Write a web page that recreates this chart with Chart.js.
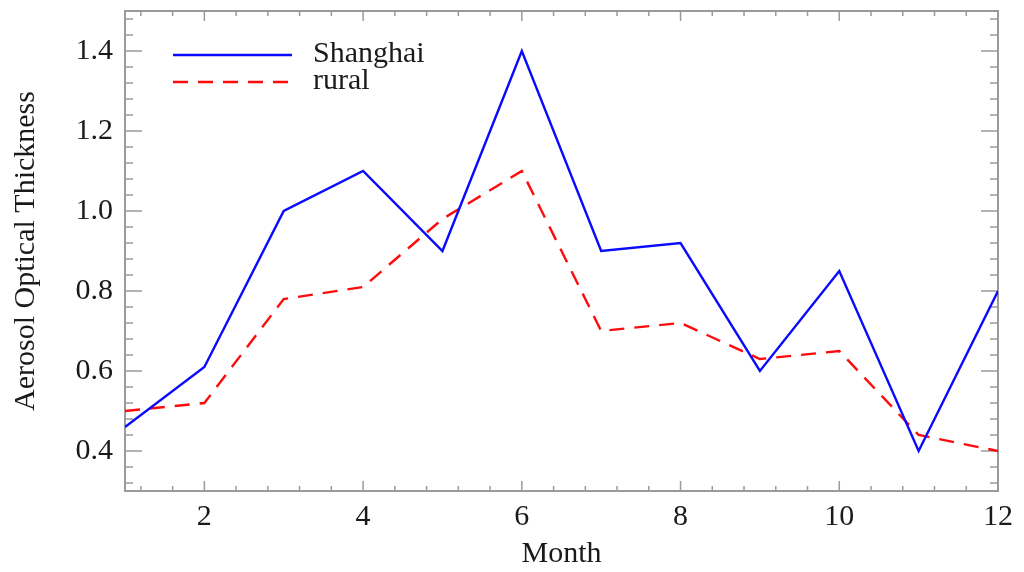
<!DOCTYPE html>
<html>
<head>
<meta charset="utf-8">
<script src="https://cdn.jsdelivr.net/npm/chart.js@4/dist/chart.umd.min.js"></script>
<style>
html, body { margin: 0; padding: 0; background: #fff; }
canvas { display: block; }
</style>
</head>
<body>
<canvas id="aotChart" width="1024" height="572"></canvas>
<script>
const months = [1, 2, 3, 4, 5, 6, 7, 8, 9, 10, 11, 12];
const shanghai = [0.46, 0.61, 1.00, 1.10, 0.90, 1.40, 0.90, 0.92, 0.60, 0.85, 0.40, 0.80];
const rural = [0.50, 0.52, 0.78, 0.81, 0.98, 1.10, 0.70, 0.72, 0.63, 0.65, 0.44, 0.40];
const xTicks = [2, 4, 6, 8, 10, 12];
const yTicks = [0.4, 0.6, 0.8, 1.0, 1.2, 1.4];

const serif = "'Liberation Serif', 'Times New Roman', serif";
const axisGray = '#9a9a9a';
const textColor = '#1a1a1a';

// box frame with inward major/minor ticks on all four sides
const frameTicks = {
    id: 'frameTicks',
    beforeDatasetsDraw(chart) {
        const {ctx, chartArea: a, scales: {x, y}} = chart;
        ctx.save();
        ctx.strokeStyle = axisGray;
        ctx.lineWidth = 1.5;
        ctx.beginPath();
        for (let k = 3; k < 30; k++) {
            const px = x.getPixelForValue(k * 0.4);
            const len = k % 5 === 0 ? 10 : 5;
            ctx.moveTo(px, a.bottom); ctx.lineTo(px, a.bottom - len);
            ctx.moveTo(px, a.top); ctx.lineTo(px, a.top + len);
        }
        for (let k = 8; k < 38; k++) {
            const py = y.getPixelForValue(k * 0.04);
            const len = k % 5 === 0 ? 17 : 8;
            ctx.moveTo(a.left, py); ctx.lineTo(a.left + len, py);
            ctx.moveTo(a.right, py); ctx.lineTo(a.right - len, py);
        }
        ctx.stroke();
        ctx.lineWidth = 2;
        ctx.strokeRect(a.left, a.top, a.right - a.left, a.bottom - a.top);
        ctx.restore();
    }
};

// legend inside the plot, top left
const innerLegend = {
    id: 'innerLegend',
    afterDraw(chart) {
        const {ctx, chartArea: a} = chart;
        ctx.save();
        ctx.font = '30px ' + serif;
        ctx.fillStyle = textColor;
        ctx.textBaseline = 'alphabetic';
        chart.data.datasets.forEach((ds, i) => {
            const ly = a.top + 44 + i * 27;
            ctx.strokeStyle = ds.borderColor;
            ctx.lineWidth = ds.borderWidth;
            ctx.setLineDash(ds.borderDash || []);
            ctx.beginPath();
            ctx.moveTo(a.left + 48, ly);
            ctx.lineTo(a.left + 167, ly);
            ctx.stroke();
            ctx.fillText(ds.label, a.left + 188, ly + 7);
        });
        ctx.restore();
    }
};

const ctx = document.getElementById('aotChart');

const aotChart = new Chart(ctx, {
    type: 'line',
    data: {
        datasets: [{
            label: 'Shanghai',
            data: months.map((m, i) => ({x: m, y: shanghai[i]})),
            borderColor: '#0a0aff',
            borderWidth: 2.4,
            pointRadius: 0,
            tension: 0
        }, {
            label: 'rural',
            data: months.map((m, i) => ({x: m, y: rural[i]})),
            borderColor: '#ff0a0a',
            borderWidth: 2.4,
            borderDash: [15, 10],
            pointRadius: 0,
            tension: 0
        }]
    },
    options: {
        responsive: false,
        animation: false,
        devicePixelRatio: 1,
        layout: { padding: { top: 11, right: 26, left: 0, bottom: 0 } },
        plugins: {
            legend: { display: false },
            tooltip: { enabled: false }
        },
        scales: {
            x: {
                type: 'linear',
                min: 1,
                max: 12,
                grid: { display: false, drawTicks: false },
                border: { display: false },
                afterBuildTicks: axis => { axis.ticks = xTicks.map(v => ({value: v})); },
                afterFit: axis => {
                    axis.height = 81;
                    axis.paddingLeft = 0;
                    axis.paddingRight = 0;
                },
                ticks: {
                    padding: 8,
                    maxRotation: 0,
                    color: textColor,
                    font: { family: serif, size: 30 },
                    callback: v => String(v)
                },
                title: {
                    display: true,
                    text: 'Month',
                    color: textColor,
                    font: { family: serif, size: 30 },
                    padding: { top: 0, bottom: 0 }
                }
            },
            y: {
                min: 0.3,
                max: 1.5,
                grid: { display: false, drawTicks: false },
                border: { display: false },
                afterBuildTicks: axis => { axis.ticks = yTicks.map(v => ({value: v})); },
                afterFit: axis => {
                    axis.width = 125;
                    axis.paddingTop = 0;
                    axis.paddingBottom = 0;
                },
                ticks: {
                    padding: 12,
                    color: textColor,
                    font: { family: serif, size: 30 },
                    callback: v => v.toFixed(1)
                },
                title: {
                    display: true,
                    text: 'Aerosol Optical Thickness',
                    color: textColor,
                    font: { family: serif, size: 30 },
                    padding: { top: 8, bottom: 0 }
                }
            }
        }
    },
    plugins: [frameTicks, innerLegend]
});
</script>
</body>
</html>
